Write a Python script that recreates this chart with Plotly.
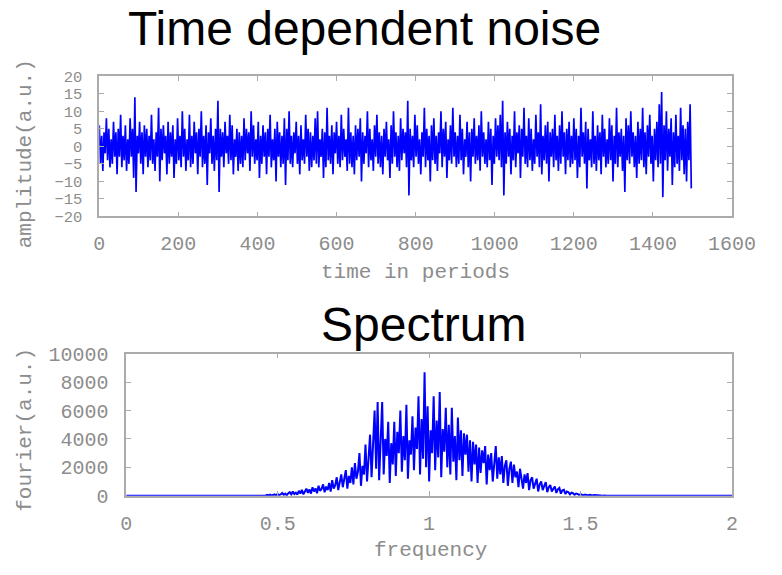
import numpy as np
import plotly.graph_objects as go

W, H = 782, 575

# ---- data: time dependent noise (sampled every 3 periods) ----
time_step = 3
noise_amplitude = [
    6, -5, 3, -7, 4, -2, 8, -4, 5, -6, 2, -5, 7, -3, 4, -8, 5, -3, 9, -6,
    3, -4, 6, -7, 2, -5, 8, -3, 5, -9, 14, -13, 3, -2, 7, -5, 4, -8, 6, -3,
    5, -6, 3, -4, 9, -5, 2, -7, 4, -3, 11, -10, 5, -4, 6, -2, 3, -8, 7, -5,
    4, -3, 6, -9, 2, -5, 8, -4, 3, -6, 10, -3, 5, -7, 2, -4, 9, -6, 3, -5,
    7, -2, 4, -8, 5, -3, 10, -6, 3, -5, 6, -11, 4, -2, 8, -5, 3, -7, 5, -4,
    13, -13, 5, -3, 4, -6, 7, -2, 3, -5, 9, -4, 6, -8, 2, -3, 5, -7, 4, -5,
    3, -6, 8, -4, 5, -2, 4, -7, 10, -3, 6, -5, 2, -4, 7, -9, 3, -5, 6, -3,
    4, -8, 5, -3, 9, -6, 2, -4, 5, -10, 7, -3, 4, -6, 3, -5, 8, -11, 5, -4,
    10, -5, 3, -6, 4, -2, 7, -5, 3, -8, 6, -4, 2, -5, 9, -3, 5, -7, 4, -6,
    3, -4, 8, -5, 10, -6, 2, -3, 5, -9, 4, -6, 11, -4, 3, -5, 6, -8, 4, -2,
    7, -5, 3, -6, 9, -4, 5, -3, 2, -7, 11, -5, 4, -6, 3, -8, 6, -4, 5, -3,
    8, -10, 4, -5, 3, -2, 10, -6, 5, -4, 2, -7, 6, -3, 9, -5, 4, -6, 3, -8,
    5, -3, 7, -4, 2, -9, 6, -5, 10, -3, 4, -6, 3, -7, 8, -4, 5, -2, 4, -6,
    13, -14, 5, -4, 3, -6, 9, -3, 6, -5, 2, -8, 4, -3, 11, -6, 5, -4, 3, -10,
    6, -4, 8, -5, 3, -7, 4, -2, 10, -6, 5, -3, 7, -9, 2, -4, 6, -5, 11, -3,
    4, -6, 3, -5, 9, -4, 5, -8, 2, -3, 7, -6, 4, -10, 5, -3, 8, -5, 3, -4,
    6, -7, 10, -3, 4, -5, 2, -6, 7, -4, 5, -11, 3, -5, 8, -3, 6, -4, 9, -6,
    13, -14, 4, -5, 7, -3, 5, -8, 3, -4, 10, -6, 4, -2, 6, -9, 5, -3, 11, -5,
    3, -6, 8, -4, 5, -7, 2, -5, 9, -3, 4, -6, 12, -8, 3, -4, 6, -5, 7, -10,
    4, -3, 5, -6, 9, -4, 3, -7, 6, -5, 10, -3, 4, -8, 5, -4, 7, -6, 3, -5,
    8, -4, 5, -9, 3, -6, 11, -3, 4, -5, 7, -12, 5, -4, 2, -6, 10, -5, 3, -7,
    6, -4, 4, -8, 9, -3, 5, -6, 2, -5, 8, -4, 6, -10, 3, -5, 11, -6, 4, -3,
    5, -7, 3, -13, 8, -4, 6, -5, 10, -3, 4, -6, 3, -9, 7, -5, 5, -4, 11, -6,
    4, -8, 6, -3, 9, -5, 3, -10, 5, -4, 7, -6, 12, -5, 15.5, -14.5, 6, -4, 10, -7,
    5, -3, 8, -11, 4, -6, 9, -5, 3, -7, 11, -4, 6, -8, 5, -10, 7, -4, 12, -12,
]
time_periods = np.arange(len(noise_amplitude)) * time_step

# ---- data: spectrum (0.45 .. 1.645 in steps of 0.005, zero elsewhere) ----
spectrum_values = [
    10, 40, 5, 60, 20, 80, 15, 50, 100, 30,
    120, 40, 90, 200, 60, 150, 30, 180, 250, 90,
    300, 120, 220, 80, 350, 150, 420, 100, 280, 500,
    200, 450, 150, 600, 300, 520, 180, 700, 350, 480,
    800, 250, 650, 400, 900, 300, 1100, 500, 750, 1300,
    400, 1000, 1500, 600, 1250, 1800, 500, 1400, 900, 2000,
    800, 2300, 1200, 1700, 3000, 700, 2100, 1500, 3600, 1000,
    2600, 4300, 1300, 3200, 6000, 1900, 6600, 1100, 3500, 6600,
    1500, 4000, 2800, 5200, 900, 3700, 2200, 5200, 1400, 4500,
    3000, 6000, 1700, 4200, 2500, 6400, 1200, 3900, 2900, 5600,
    1800, 4800, 3300, 7000, 1500, 5400, 2600, 8700, 2000, 6300,
    1000, 4600, 3000, 7000, 1800, 5300, 2700, 7300, 1300, 4700,
    3100, 6200, 2000, 5000, 1500, 6200, 2400, 4200, 1100, 5500,
    2500, 4600, 1400, 4400, 2900, 4300, 1700, 3900, 1000, 3800,
    2200, 3600, 900, 3400, 1600, 3200, 2300, 3500, 800, 2900,
    1800, 3000, 1000, 2600, 3500, 1200, 2700, 1500, 2800, 900,
    2100, 2500, 700, 1900, 2400, 900, 2200, 1300, 1700, 600,
    1900, 1200, 500, 1500, 900, 1600, 400, 1100, 1300, 500,
    900, 1200, 300, 800, 1000, 400, 700, 950, 250, 600,
    750, 300, 500, 650, 200, 450, 550, 150, 380, 420,
    120, 300, 250, 90, 220, 180, 60, 160, 130, 50,
    110, 80, 30, 90, 60, 20, 70, 40, 15, 50,
    30, 10, 35, 20, 8, 25, 12, 5, 15, 8,
    4, 10, 3, 6, 2, 5, 1, 3, 1, 0,
]
spectrum_start, spectrum_step = 0.45, 0.005
spectrum_freq = [0.0] + [round(spectrum_start + i * spectrum_step, 4) for i in range(len(spectrum_values))] + [2.0]
spectrum_amp = [0] + spectrum_values + [0]

# ---- tick labels ----
top_xticks = [0, 200, 400, 600, 800, 1000, 1200, 1400, 1600]
top_yticks = [-20, -15, -10, -5, 0, 5, 10, 15, 20]
bot_xticks = [0, 0.5, 1, 1.5, 2]
bot_xlabels = ["0", "0.5", "1", "1.5", "2"]
bot_yticks = [0, 2000, 4000, 6000, 8000, 10000]
bot_ylabels = ["0", "2000", "4000", "6000", "8000", "10000"]

def px_x(x):
    return x / W

def px_y(y):
    return 1 - y / H

top_box = dict(x0=97, x1=755, y0=69, y1=215)
bot_box = dict(x0=125, x1=755, y0=358, y1=506)

mono = "Liberation Mono, Courier New, monospace"
grey = "#8c8c8c"
tick_font = dict(family=mono, size=20, color=grey)
small_tick_font = dict(family=mono, size=15.5, color=grey)
title_font = dict(family=mono, size=21, color=grey)
big_font = dict(family="Liberation Sans, Arial, sans-serif", size=48, color="#000000")
axis_color = "#ababab"

fig = go.Figure()
fig.add_trace(go.Scatter(x=time_periods, y=noise_amplitude, mode="lines",
                         line=dict(color="rgb(0,0,255)", width=1.7),
                         xaxis="x", yaxis="y", showlegend=False))
fig.add_trace(go.Scatter(x=spectrum_freq, y=spectrum_amp, mode="lines",
                         line=dict(color="rgb(0,0,255)", width=2),
                         xaxis="x2", yaxis="y2", showlegend=False))

common = dict(showline=True, linecolor=axis_color, linewidth=1.5, mirror="ticks",
              ticks="inside", ticklen=5, tickcolor=axis_color, tickwidth=1,
              showgrid=False, zeroline=False)

fig.update_layout(
    width=W, height=H,
    margin=dict(l=0, r=0, t=0, b=0),
    paper_bgcolor="white", plot_bgcolor="white",
    xaxis=dict(domain=[px_x(top_box["x0"]), px_x(top_box["x1"])], range=[0, 1600],
               tickvals=top_xticks, anchor="y", ticklabelstandoff=8, tickfont=tick_font, **common),
    yaxis=dict(domain=[px_y(top_box["y1"]), px_y(top_box["y0"])], range=[-20, 20],
               tickvals=top_yticks, anchor="x", ticklabelstandoff=12, tickfont=small_tick_font, **common),
    xaxis2=dict(domain=[px_x(bot_box["x0"]), px_x(bot_box["x1"])], range=[0, 2],
                tickvals=bot_xticks, ticktext=bot_xlabels, anchor="y2", ticklabelstandoff=8,
                tickfont=tick_font, **common),
    yaxis2=dict(domain=[px_y(bot_box["y1"]), px_y(bot_box["y0"])], range=[0, 10000],
                tickvals=bot_yticks, ticktext=bot_ylabels, anchor="x2", ticklabelstandoff=12,
                tickfont=tick_font, **common),
)

annotations = [
    dict(text="Time dependent noise", x=px_x(125), y=px_y(19), font=big_font, xanchor="left"),
    dict(text="Spectrum", x=px_x(326), y=px_y(328), font=big_font, xanchor="left"),
    dict(text="time in periods", x=px_x(426), y=px_y(273), font=title_font),
    dict(text="frequency", x=px_x(441), y=px_y(563), font=title_font),
    dict(text="amplitude(a.u.)", x=px_x(20), y=px_y(150), font=title_font, textangle=-90),
    dict(text="fourier(a.u.)", x=px_x(20), y=px_y(437), font=title_font, textangle=-90),
]
for a in annotations:
    a.setdefault("xanchor", "center")
    a.update(xref="paper", yref="paper", showarrow=False, yanchor="middle")
fig.update_layout(annotations=annotations)

fig.write_html("out.html")
